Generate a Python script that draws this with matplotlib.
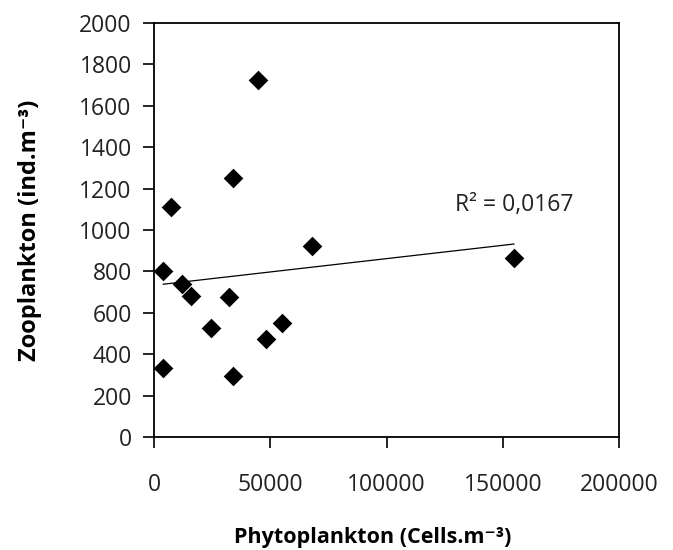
import numpy as np
import matplotlib
matplotlib.use("Agg")
import matplotlib.pyplot as plt

plt.rcParams['font.family'] = ['Open Sans', 'DejaVu Sans']

phyto = [44600, 34100, 7300, 67800, 154800, 4000, 11900, 15900, 32100, 24500, 54900, 48200, 4000, 33800]
zoo = [1725, 1253, 1113, 923, 866, 803, 739, 681, 675, 525, 552, 472, 332, 295]
xticks = [0, 50000, 100000, 150000, 200000]
yticks = [0, 200, 400, 600, 800, 1000, 1200, 1400, 1600, 1800, 2000]
r2_text = "R² = 0,0167"

fig = plt.figure(figsize=(6.73, 5.5), dpi=100)
ax = fig.add_axes([154/673, 1-437/550, 465/673, 414/550])

x = np.array(phyto, dtype=float)
y = np.array(zoo, dtype=float)
slope, intercept = np.polyfit(x, y, 1)
xl = np.array([x.min(), x.max()])
ax.plot(xl, slope*xl + intercept, color='black', lw=0.9, zorder=2)
ax.scatter(x, y, marker='D', s=10**2, color='black', zorder=3, linewidths=0)

ax.set_xlim(0, 200000)
ax.set_ylim(0, 2000)
ax.set_xticks(xticks)
ax.set_yticks(yticks)
ax.set_xticklabels([str(t) for t in xticks])
ax.set_yticklabels([str(t) for t in yticks])
ax.tick_params(axis='both', direction='out', length=8, width=1.2, labelsize=16.5,
               colors='black', labelcolor='#222222')
ax.tick_params(axis='y', pad=8)
ax.tick_params(axis='x', pad=18)
for s in ax.spines.values():
    s.set_linewidth(1.3)

ax.text(129500, 1120, r2_text, fontsize=16.5, color='#222222', ha='left', va='center')

ax.set_xlabel("Phytoplankton (Cells.m⁻³)", fontsize=15.5, fontweight='bold')
ax.xaxis.set_label_coords(0.471, -0.218)
ax.set_ylabel("Zooplankton (ind.m⁻³)", fontsize=17, fontweight='bold', labelpad=27)

fig.savefig("out.png", dpi=100)
